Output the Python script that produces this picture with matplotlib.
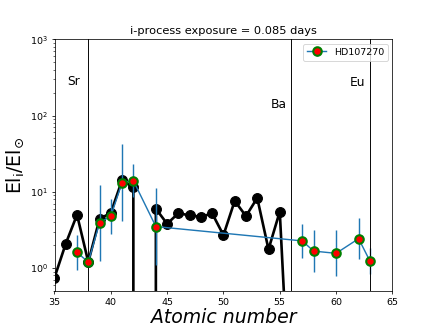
import matplotlib
matplotlib.use("Agg")
import matplotlib.pyplot as plt
import numpy as np

# model abundances (black), 43 (Tc) is zero
model_z = [35, 36, 37, 38, 39, 40, 41, 42, 43, 44, 45, 46, 47, 48, 49, 50, 51, 52, 53, 54, 55, 56]
model_val = [0.75, 2.09, 5.0, 1.2, 4.4, 5.3, 14.2, 11.4, 0.0, 6.0, 3.8, 5.25, 4.9, 4.7, 5.2, 2.7,
             7.6, 4.8, 8.3, 1.76, 5.5, 0.007]

# star HD107270 observations
star_z = [37, 38, 39, 40, 41, 42, 44, 57, 58, 60, 62, 63]
star_val = [1.6, 1.2, 3.9, 4.8, 13.2, 14.0, 3.5, 2.27, 1.67, 1.56, 2.43, 1.24]
star_err_dex = [0.23, 0.0, 0.5, 0.23, 0.5, 0.22, 0.5, 0.22, 0.28, 0.3, 0.27, 0.17]

# element markers
elem_names = ["Sr", "Ba", "Eu"]
elem_z = [38, 56, 63]
label_x = [36.7, 54.9, 61.9]
label_y = [280, 140, 270]

star_val = np.array(star_val)
err = np.array(star_err_dex)
lo = star_val - star_val * 10 ** (-err)
hi = star_val * 10 ** err - star_val

fig = plt.figure(figsize=(6.4, 4.8), dpi=68.125)
ax = fig.add_subplot(111)

ax.plot(model_z, model_val, 'o-', color='k', lw=2.8, markersize=10.5)
ax.errorbar(star_z, star_val, yerr=[lo, hi], fmt='o-', color='C0', lw=1.5,
            markerfacecolor='red', markeredgecolor='green', markersize=9, mew=2.2,
            label='HD107270')

for name, z, tx, ty in zip(elem_names, elem_z, label_x, label_y):
    ax.axvline(z, color='k', lw=1)
    ax.text(tx, ty, name, ha='center', va='center', fontsize=13)

ax.set_yscale('log')
ax.set_xlim(35, 65)
ax.set_ylim(0.5, 1000)
ax.set_title('i-process exposure = 0.085 days')
ax.set_xlabel('Atomic number', fontsize=20, fontstyle='italic', labelpad=1)
ax.set_ylabel(r'El$_{\rm i}$/El$_{\odot}$', fontsize=20)
ax.legend(loc='upper right')

fig.savefig('out.png', dpi=68.125)
